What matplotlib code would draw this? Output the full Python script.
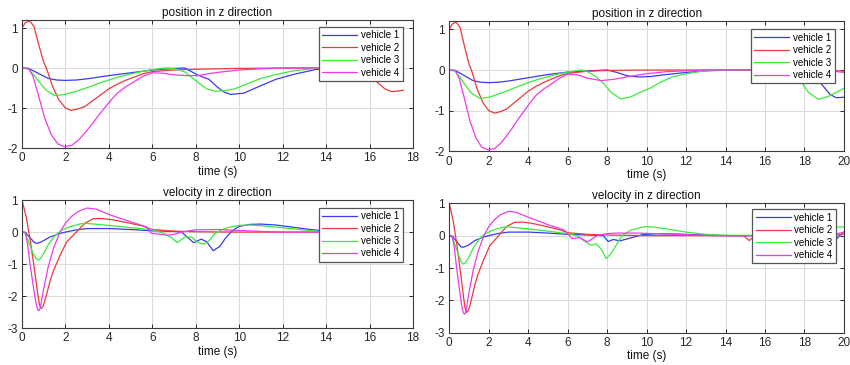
import matplotlib.pyplot as plt

plt.rcParams['font.family'] = ['Liberation Sans', 'DejaVu Sans']
plt.rcParams['axes.unicode_minus'] = False

names = ['vehicle 1', 'vehicle 2', 'vehicle 3', 'vehicle 4']
colors = ['#3a3af0', '#ec3a3a', '#3aec3a', '#ee3aee']

# ---- run A: position in z (0 - 17.55 s)
pa_t1 = [0, 0.3, 0.7, 1.2, 1.6, 2.0, 2.5, 3.0, 4.0, 5.0, 6.0, 7.0, 7.5, 8.1, 8.6, 9.0, 9.3, 9.6, 10.2, 11.0,
         11.7, 12.5, 13.5, 14.5, 17.55]
pa_z1 = [0, -0.01, -0.12, -0.26, -0.3, -0.31, -0.3, -0.27, -0.19, -0.12, -0.05, -0.01, 0, -0.18, -0.28, -0.48,
         -0.6, -0.66, -0.63, -0.44, -0.28, -0.16, -0.04, 0, -0.01]
pa_t2 = [0, 0.15, 0.35, 0.55, 0.75, 1.0, 1.12, 1.4, 1.7, 2.0, 2.25, 2.6, 2.9, 3.3, 3.65, 4.0, 4.4, 4.8, 5.2, 5.6,
         6.0, 7.0, 8.0, 10.0, 12.0, 15.3, 15.8, 16.3, 16.7, 17.0, 17.3, 17.55]
pa_z2 = [1.0, 1.13, 1.18, 1.04, 0.62, 0.14, 0.0, -0.45, -0.8, -1.0, -1.06, -1.02, -0.96, -0.8, -0.66, -0.52, -0.4,
         -0.3, -0.22, -0.14, -0.09, -0.05, -0.03, -0.01, 0, 0, -0.12, -0.33, -0.52, -0.59, -0.58, -0.55]
pa_t3 = [0, 0.3, 0.5, 0.75, 1.1, 1.5, 2.0, 2.5, 2.9, 3.5, 4.0, 4.4, 5.0, 5.5, 6.0, 6.6, 7.0, 7.5, 8.1, 8.5, 8.9,
         9.3, 9.8, 10.2, 11.0, 11.7, 12.5, 13.5, 14.5, 16.5, 17.55]
pa_z3 = [0, -0.03, -0.15, -0.32, -0.55, -0.69, -0.66, -0.58, -0.51, -0.39, -0.3, -0.23, -0.15, -0.09, -0.04, 0,
         -0.01, -0.1, -0.36, -0.52, -0.58, -0.57, -0.52, -0.43, -0.26, -0.16, -0.07, -0.01, 0, 0, -0.08]
pa_t4 = [0, 0.3, 0.5, 0.75, 1.05, 1.35, 1.65, 1.97, 2.3, 2.6, 2.9, 3.2, 3.5, 3.8, 4.1, 4.4, 4.8, 5.2, 5.6, 6.0,
         6.5, 7.0, 7.6, 8.1, 8.6, 9.0, 10.0, 11.0, 12.0, 17.55]
pa_z4 = [0, -0.01, -0.2, -0.67, -1.26, -1.67, -1.9, -1.97, -1.93, -1.8, -1.62, -1.42, -1.2, -1.0, -0.8, -0.62,
         -0.46, -0.33, -0.2, -0.12, -0.13, -0.17, -0.19, -0.19, -0.14, -0.11, -0.05, -0.02, 0, 0]

# ---- run B: position in z (0 - 20 s)
pb_t1 = [0, 0.3, 0.7, 1.2, 1.6, 2.0, 2.5, 3.0, 4.0, 5.0, 6.0, 7.0, 8.0, 8.5, 9.0, 9.6, 10.2, 11.0, 12.0, 13.0,
         14.0, 18.0, 18.5, 18.9, 19.3, 19.6, 20.0]
pb_z1 = [0, -0.01, -0.12, -0.26, -0.3, -0.31, -0.3, -0.27, -0.19, -0.11, -0.05, -0.02, 0, -0.06, -0.14, -0.17,
         -0.16, -0.11, -0.06, -0.02, 0, 0, -0.12, -0.37, -0.6, -0.68, -0.67]
pb_t2 = [0, 0.15, 0.35, 0.55, 0.75, 1.0, 1.12, 1.4, 1.7, 2.0, 2.3, 2.6, 2.9, 3.3, 3.65, 4.0, 4.4, 4.8, 5.2, 5.6,
         6.0, 7.0, 8.0, 10.0, 19.0, 20.0]
pb_z2 = [1.0, 1.13, 1.18, 1.04, 0.62, 0.14, 0.0, -0.45, -0.8, -1.0, -1.06, -1.02, -0.96, -0.8, -0.66, -0.52,
         -0.4, -0.3, -0.22, -0.14, -0.08, -0.03, -0.01, 0, 0, -0.03]
pb_t3 = [0, 0.3, 0.5, 0.75, 1.1, 1.55, 2.0, 2.5, 3.0, 3.5, 4.0, 4.5, 5.0, 5.5, 6.0, 6.7, 7.0, 7.4, 7.8, 8.2,
         8.7, 9.2, 9.7, 10.2, 10.7, 11.3, 11.9, 12.5, 13.0, 14.0, 17.5, 17.85, 18.2, 18.7, 19.2, 19.6, 20.0]
pb_z3 = [0, -0.03, -0.15, -0.33, -0.56, -0.7, -0.67, -0.59, -0.5, -0.4, -0.31, -0.23, -0.16, -0.1, -0.05, 0,
         -0.04, -0.15, -0.32, -0.55, -0.71, -0.66, -0.54, -0.44, -0.3, -0.17, -0.1, -0.05, -0.02, 0, 0, -0.3,
         -0.55, -0.72, -0.65, -0.55, -0.45]
pb_t4 = [0, 0.3, 0.5, 0.75, 1.05, 1.35, 1.65, 1.95, 2.3, 2.6, 2.9, 3.2, 3.5, 3.8, 4.1, 4.4, 4.8, 5.2, 5.6, 6.0,
         6.5, 7.0, 7.7, 8.3, 9.0, 10.0, 11.0, 12.0, 13.0, 19.0, 20.0]
pb_z4 = [0, -0.01, -0.2, -0.67, -1.26, -1.67, -1.9, -1.96, -1.93, -1.8, -1.62, -1.42, -1.2, -1.0, -0.8, -0.62,
         -0.46, -0.33, -0.2, -0.1, -0.12, -0.2, -0.26, -0.23, -0.17, -0.09, -0.04, -0.02, 0, 0, -0.06]

# ---- run A: velocity in z
va_t1 = [0, 0.15, 0.4, 0.58, 0.7, 0.9, 1.3, 1.7, 2.0, 2.5, 3.0, 4.0, 5.0, 6.0, 7.0, 7.35, 7.9, 8.25, 8.5, 8.8,
         9.1, 9.4, 9.7, 10.0, 10.5, 11.0, 11.7, 12.5, 13.3, 14.0, 15.0, 17.55]
va_v1 = [0, -0.02, -0.2, -0.33, -0.35, -0.3, -0.15, -0.05, 0, 0.07, 0.11, 0.11, 0.08, 0.04, 0.02, 0, -0.33,
         -0.22, -0.3, -0.58, -0.45, -0.16, 0.05, 0.18, 0.24, 0.25, 0.22, 0.15, 0.08, 0.03, 0, 0]
va_t2 = [0, 0.2, 0.4, 0.6, 0.72, 0.8, 0.88, 0.96, 1.05, 1.13, 1.3, 1.45, 1.75, 2.05, 2.5, 2.9, 3.3, 3.7, 4.2,
         4.8, 5.5, 6.0, 7.0, 8.0, 10.0, 15.5, 16.3, 17.0, 17.55]
va_v2 = [1.0, 0.45, -0.35, -1.3, -1.9, -2.25, -2.38, -2.33, -2.15, -1.95, -1.5, -1.2, -0.73, -0.31, 0, 0.28,
         0.42, 0.42, 0.38, 0.3, 0.2, 0.08, 0.03, 0.01, 0, 0, -0.5, 0, 0.18]
va_t3 = [0, 0.12, 0.3, 0.5, 0.65, 0.75, 0.85, 0.95, 1.2, 1.5, 1.8, 2.2, 2.7, 3.0, 4.0, 5.0, 6.0, 6.5, 6.9, 7.15,
         7.5, 7.8, 8.05, 8.35, 8.6, 8.85, 9.2, 9.6, 10.0, 10.5, 11.0, 11.8, 12.5, 13.3, 14.0, 17.55]
va_v3 = [0, 0, -0.3, -0.65, -0.82, -0.87, -0.82, -0.72, -0.4, -0.12, 0.05, 0.17, 0.26, 0.27, 0.21, 0.14, 0.07,
         -0.03, -0.18, -0.33, -0.15, -0.15, -0.3, -0.38, -0.28, -0.06, 0.08, 0.16, 0.21, 0.22, 0.2, 0.15, 0.1,
         0.04, 0.01, 0]
va_t4 = [0, 0.14, 0.25, 0.37, 0.5, 0.6, 0.67, 0.73, 0.77, 0.82, 0.88, 0.98, 1.2, 1.45, 1.75, 2.0, 2.3, 2.6,
         3.0, 3.4, 4.0, 5.0, 5.75, 5.95, 6.3, 6.7, 7.0, 7.5, 8.0, 9.0, 10.0, 11.0, 12.0, 17.55]
va_v4 = [0, 0, -0.35, -1.0, -1.6, -2.05, -2.3, -2.42, -2.45, -2.4, -2.22, -1.82, -1.1, -0.5, 0, 0.28, 0.5,
         0.65, 0.75, 0.72, 0.55, 0.32, 0.16, -0.04, -0.06, -0.1, -0.07, 0.02, 0.07, 0.08, 0.05, 0.02, 0, 0]

# ---- run B: velocity in z
vb_t1 = [0, 0.15, 0.4, 0.58, 0.7, 0.95, 1.3, 1.7, 2.0, 2.5, 3.0, 4.0, 5.0, 6.0, 7.0, 7.8, 8.05, 8.3, 8.65, 9.2,
         9.8, 10.5, 11.5, 12.5, 13.5, 14.2, 18.5, 18.9, 19.3, 19.55, 19.75, 20.0]
vb_v1 = [0, -0.02, -0.2, -0.34, -0.36, -0.3, -0.15, -0.05, 0, 0.07, 0.11, 0.11, 0.08, 0.04, 0.02, 0, -0.18,
         -0.12, -0.16, -0.07, 0.03, 0.06, 0.05, 0.03, 0.01, 0, 0, -0.5, -0.45, -0.15, -0.02, 0.12]
vb_t2 = [0, 0.2, 0.4, 0.6, 0.72, 0.8, 0.88, 0.96, 1.05, 1.13, 1.3, 1.45, 1.75, 2.05, 2.5, 2.9, 3.3, 3.7, 4.2,
         4.8, 5.5, 6.0, 7.0, 8.0, 9.0, 10.0, 14.9, 15.2, 15.5, 19.5, 20.0]
vb_v2 = [1.0, 0.45, -0.35, -1.3, -1.9, -2.24, -2.37, -2.32, -2.15, -1.95, -1.5, -1.2, -0.73, -0.31, 0, 0.28,
         0.41, 0.42, 0.38, 0.3, 0.2, 0.09, 0.04, 0.02, 0.01, 0, 0, -0.15, 0, 0, 0.05]
vb_t3 = [0, 0.12, 0.3, 0.5, 0.62, 0.72, 0.82, 0.95, 1.2, 1.5, 1.8, 2.2, 2.7, 3.0, 4.0, 5.0, 6.0, 6.5, 6.8, 7.2,
         7.45, 7.7, 7.95, 8.2, 8.5, 8.75, 9.2, 9.9, 10.3, 11.0, 12.0, 13.0, 14.0, 17.6, 18.2, 18.7, 19.3, 20.0]
vb_v3 = [0, 0, -0.3, -0.65, -0.83, -0.88, -0.83, -0.72, -0.4, -0.12, 0.05, 0.17, 0.26, 0.27, 0.21, 0.14, 0.06,
         0, -0.15, -0.3, -0.25, -0.42, -0.71, -0.55, -0.25, 0, 0.17, 0.28, 0.27, 0.21, 0.11, 0.04, 0.01, 0, -0.5,
         0, 0.27, 0.27]
vb_t4 = [0, 0.14, 0.25, 0.37, 0.5, 0.6, 0.67, 0.73, 0.77, 0.82, 0.88, 0.98, 1.2, 1.45, 1.75, 2.0, 2.3, 2.6,
         3.0, 3.4, 4.0, 5.0, 5.8, 6.0, 6.2, 6.6, 7.0, 7.5, 7.95, 8.5, 9.5, 10.5, 11.5, 12.5, 13.5, 19.0, 20.0]
vb_v4 = [0, 0, -0.35, -1.0, -1.6, -2.05, -2.3, -2.4, -2.43, -2.38, -2.2, -1.82, -1.1, -0.5, 0, 0.28, 0.5, 0.65,
         0.75, 0.72, 0.57, 0.34, 0.18, 0.08, -0.09, -0.06, -0.19, 0, 0.06, 0.08, 0.08, 0.06, 0.04, 0.02, 0, 0, 0.1]

fig = plt.figure(figsize=(8.5, 3.65), dpi=100)

# rect, xmax, ylim, title, legend anchor, data
panels = [
    ([0.0259, 0.5945, 0.4600, 0.3507], 18, (-2, 1.2), 'position in z direction', (0.974, 0.945),
     [(pa_t1, pa_z1), (pa_t2, pa_z2), (pa_t3, pa_z3), (pa_t4, pa_z4)]),
    ([0.5286, 0.5852, 0.4643, 0.3567], 20, (-2, 1.2), 'position in z direction', (0.977, 0.938),
     [(pb_t1, pb_z1), (pb_t2, pb_z2), (pb_t3, pb_z3), (pb_t4, pb_z4)]),
    ([0.0259, 0.1005, 0.4600, 0.3515], 18, (-3, 1), 'velocity in z direction', (0.974, 0.940),
     [(va_t1, va_v1), (va_t2, va_v2), (va_t3, va_v3), (va_t4, va_v4)]),
    ([0.5286, 0.0885, 0.4643, 0.3545], 20, (-3, 1), 'velocity in z direction', (0.980, 0.954),
     [(vb_t1, vb_v1), (vb_t2, vb_v2), (vb_t3, vb_v3), (vb_t4, vb_v4)]),
]

for rect, xmax, ylim, title, anchor, data in panels:
    ax = fig.add_axes(rect)
    for (t, v), c, n in zip(data, colors, names):
        ax.plot(t, v, color=c, lw=0.9, label=n)
    ax.set_xlim(0, xmax)
    ax.set_ylim(*ylim)
    ax.set_xticks(range(0, xmax + 1, 2))
    ax.set_yticks(range(ylim[0], int(ylim[1]) + 1))
    ax.grid(True, color='#dcdcdc', lw=0.8)
    ax.set_axisbelow(True)
    ax.tick_params(direction='in', top=True, right=True, length=3, width=0.7,
                   labelsize=8.5, colors='#262626', pad=3)
    for s in ax.spines.values():
        s.set_color('#3c3c3c')
        s.set_linewidth(0.8)
    ax.set_title(title, fontsize=8.5, pad=3, color='#111111')
    ax.set_xlabel('time (s)', fontsize=8.5, labelpad=1, color='#111111')
    leg = ax.legend(loc='upper right', bbox_to_anchor=anchor, borderaxespad=0, fontsize=7,
                    fancybox=False, framealpha=1, edgecolor='#555555', handlelength=3.6,
                    handletextpad=0.4, labelspacing=0.25, borderpad=0.35)
    leg.get_frame().set_linewidth(0.9)

fig.savefig('out.png', dpi=100)
